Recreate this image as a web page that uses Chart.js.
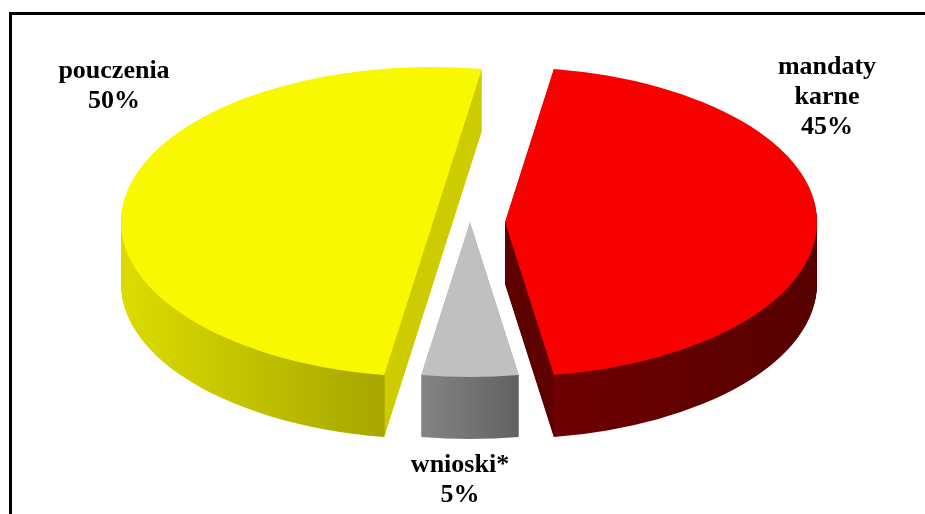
<!DOCTYPE html>
<html>
<head>
<meta charset="utf-8">
<script src="https://cdn.jsdelivr.net/npm/chart.js@4"></script>
<style>
html, body { margin: 0; padding: 0; background: #fff; overflow: hidden; }
#wrap { position: relative; width: 925px; height: 514px; overflow: hidden; }
#frame { position: absolute; left: 9px; top: 12px; right: -20px; bottom: -20px; border: 3px solid #000; }
canvas { position: absolute; left: 0; top: 0; }
</style>
</head>
<body>
<div id="wrap">
  <div id="frame"></div>
  <canvas id="pieChart" width="925" height="514"></canvas>
</div>
<script>
// data
var labels = [['mandaty', 'karne'], ['wnioski*'], ['pouczenia']];
var values = [45, 5, 50];
var topColors = ['#f80000', '#c0c0c0', '#f8f800'];
var sideColors = [['#6e0000', '#560000'], ['#848484', '#626262'], ['#dcdc00', '#a6a600']];
var cutColors = ['#5c0000', null, '#cccc00'];

// 3d look
var CX = 470, CY = 222, RX = 312, RY = 155, DEPTH = 62;
var explode = [[35, 0], [0, 0], [-37, 0]];
var labelPos = [[827, 74], [460, 472], [114, 78]];
var lineGap = 30;

// gradient for the extruded side of one slice (in the arc's own coordinates)
function sideFill(ctx, arc, i) {
    var r = arc.outerRadius, lo = 0, hi = 0;
    for (var k = 0; k <= 60; k++) {
        var a = arc.startAngle + (arc.endAngle - arc.startAngle) * k / 60;
        lo = Math.min(lo, Math.cos(a) * r);
        hi = Math.max(hi, Math.cos(a) * r);
    }
    var g = ctx.createLinearGradient(arc.x + lo, 0, arc.x + hi, 0);
    var light = sideColors[i][0], dark = sideColors[i][1], cut = cutColors[i];
    if (!cut) {
        g.addColorStop(0, light);
        g.addColorStop(1, dark);
        return g;
    }
    // the cut face that shows is the one at the lower edge of the slice
    var aEnd = Math.sin(arc.startAngle) > Math.sin(arc.endAngle) ? arc.startAngle : arc.endAngle;
    var ue = Math.cos(aEnd) * r;
    var f = (ue - lo) / (hi - lo);
    if (ue < 0) {
        g.addColorStop(0, light);
        g.addColorStop(f, dark);
        g.addColorStop(Math.min(1, f + 0.002), cut);
        g.addColorStop(1, cut);
    } else {
        g.addColorStop(0, cut);
        g.addColorStop(f, cut);
        g.addColorStop(Math.min(1, f + 0.002), light);
        g.addColorStop(1, dark);
    }
    return g;
}

var pie3d = {
    id: 'pie3d',
    beforeDatasetsDraw: function(chart) {
        var ctx = chart.ctx;
        var meta = chart.getDatasetMeta(0);
        meta.data.forEach(function(arc, i) {
            var r = arc.outerRadius;
            var sx = RX / r, sy = RY / r;
            var orig = arc.options.backgroundColor;
            for (var d = DEPTH; d >= 0; d--) {
                ctx.save();
                ctx.translate(CX + explode[i][0], CY + explode[i][1] + d);
                ctx.scale(sx, sy);
                ctx.translate(-arc.x, -arc.y);
                arc.options.backgroundColor = d > 0 ? sideFill(ctx, arc, i) : orig;
                arc.draw(ctx);
                ctx.restore();
            }
            arc.options.backgroundColor = orig;
        });
        return false;
    },
    afterDraw: function(chart) {
        var ctx = chart.ctx;
        var total = values.reduce(function(a, b) { return a + b; }, 0);
        ctx.save();
        ctx.fillStyle = '#000';
        ctx.font = 'bold 26px "Liberation Serif", "Times New Roman", serif';
        ctx.textAlign = 'center';
        ctx.textBaseline = 'alphabetic';
        labels.forEach(function(lab, i) {
            var lines = lab.concat([Math.round(values[i] / total * 100) + '%']);
            lines.forEach(function(t, j) {
                ctx.fillText(t, labelPos[i][0], labelPos[i][1] + j * lineGap);
            });
        });
        ctx.restore();
    }
};

var ctx1 = document.getElementById('pieChart').getContext('2d');
var pieChart = new Chart(ctx1, {
    type: 'pie',
    data: {
        labels: labels,
        datasets: [{
            data: values,
            backgroundColor: topColors,
            borderWidth: 0,
            offset: 0
        }]
    },
    options: {
        responsive: false,
        animation: false,
        rotation: 9,
        layout: { padding: 20 },
        plugins: {
            legend: { display: false },
            tooltip: { enabled: false }
        }
    },
    plugins: [pie3d]
});
</script>
</body>
</html>
